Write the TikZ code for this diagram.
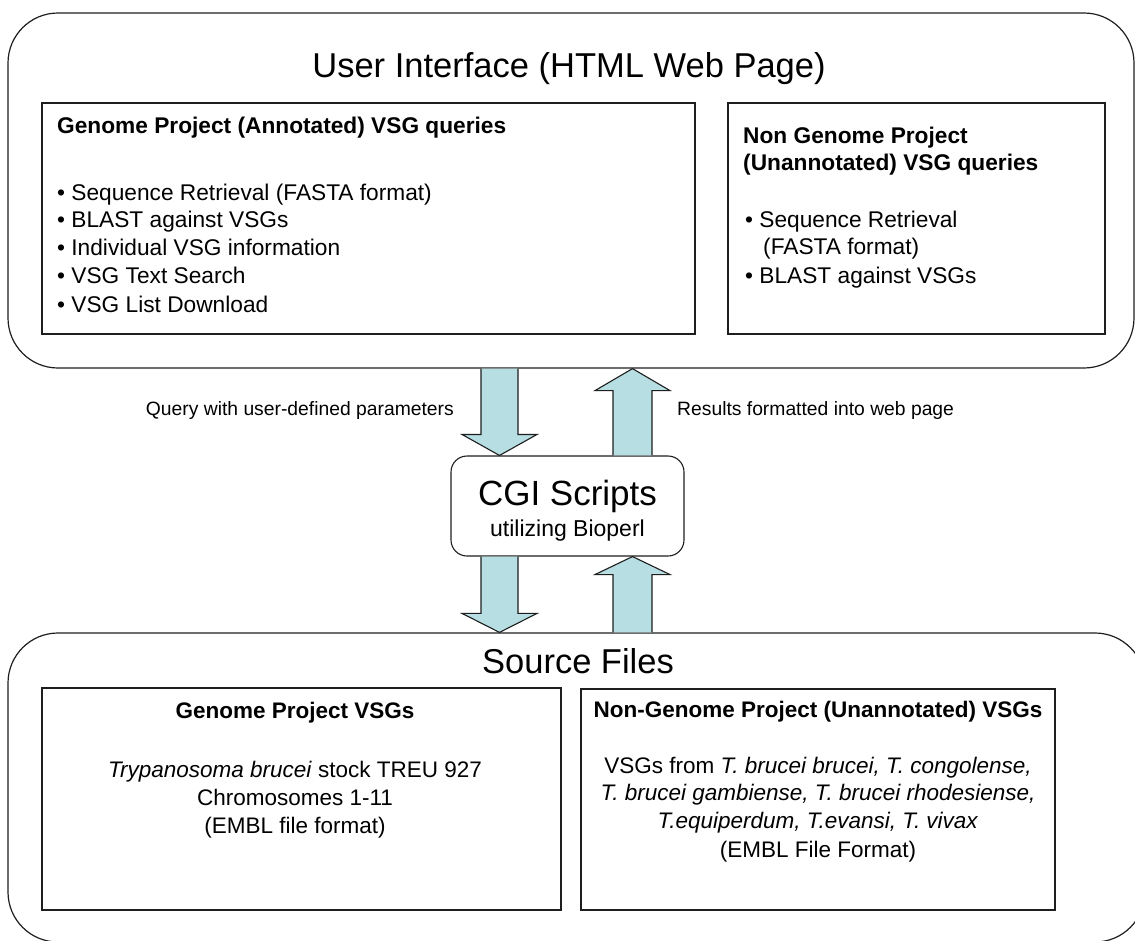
\documentclass[tikz,border=0pt]{standalone}
\usepackage{fontspec}
\setmainfont{Liberation Sans}
\usetikzlibrary{calc}
\definecolor{arrowfill}{RGB}{183,222,226}
\definecolor{edge}{RGB}{30,30,30}
\tikzset{
  outerbox/.style={draw=edge, line width=1.2pt, rounded corners=50pt, inner sep=0pt},
  innerbox/.style={draw=edge, line width=1.1pt, inner sep=0pt},
  cgibox/.style={draw=edge, line width=1.1pt, rounded corners=16pt, inner sep=0pt, fill=white},
  bigtext/.style={font=\fontsize{34.5}{40}\selectfont, inner sep=0pt, anchor=base},
  lt/.style={font=\fontsize{22.7}{28}\selectfont, inner sep=0pt, anchor=base west},
  bt/.style={font=\fontsize{22.7}{28}\selectfont\bfseries, inner sep=0pt, anchor=base west},
  ct/.style={font=\fontsize{22.5}{28}\selectfont, inner sep=0pt, anchor=base},
  cbt/.style={font=\fontsize{22.5}{28}\selectfont\bfseries, inner sep=0pt, anchor=base},
  smallt/.style={font=\fontsize{19.3}{24}\selectfont, inner sep=0pt},
  arrowfillst/.style={fill=arrowfill, draw=none},
  arrowedge/.style={draw=edge, line width=1.1pt, line join=miter},
}
\begin{document}
\begin{tikzpicture}[x=1pt,y=-1pt]
\useasboundingbox (0,0) rectangle (1135,940);
\clip (0,0) rectangle (1135,940);

% outer containers
\node[outerbox, minimum width=1126pt, minimum height=355pt] (ui) at (571,190.5) {};
\node[outerbox, minimum width=1137pt, minimum height=309pt] (src) at (576.5,787.5) {};

% inner boxes
\node[innerbox, minimum width=653pt, minimum height=231pt] (gq) at (368.5,218.5) {};
\node[innerbox, minimum width=377pt, minimum height=231pt] (nq) at (916.5,218.5) {};
\node[innerbox, minimum width=519pt, minimum height=222pt] (gs) at (301.5,799) {};
\node[innerbox, minimum width=474pt, minimum height=221pt] (ns) at (818,799.5) {};

% titles
\node[bigtext] (uititle) at (569,77) {User Interface (HTML Web Page)};
\node[bigtext] (srctitle) at (578,673) {Source Files};

% box 1 text
\node[bt] (gqh) at (57,133) {Genome Project (Annotated) VSG queries};
\node[lt] (gq1) at (57,200) {• Sequence Retrieval (FASTA format)};
\node[lt] (gq2) at (57,227) {• BLAST against VSGs};
\node[lt] (gq3) at (57,255) {• Individual VSG information};
\node[lt] (gq4) at (57,283) {• VSG Text Search};
\node[lt] (gq5) at (57,312) {• VSG List Download};

% box 2 text
\node[bt] (nqh1) at (743,143) {Non Genome Project};
\node[bt] (nqh2) at (743,170) {(Unannotated) VSG queries};
\node[lt] (nq1) at (745,227) {• Sequence Retrieval};
\node[lt] (nq1b) at (763,254) {(FASTA format)};
\node[lt] (nq2) at (745,283) {• BLAST against VSGs};

% CGI box
\node[cgibox, minimum width=233pt, minimum height=100pt] (cgi) at (567.5,506) {};
\node[font=\fontsize{35}{40}\selectfont, inner sep=0pt, anchor=base] (cgit) at (567.5,505) {CGI Scripts};
\node[font=\fontsize{23}{28}\selectfont, inner sep=0pt, anchor=base] (cgis) at (567.5,536) {utilizing Bioperl};

% arrow labels
\node[smallt, anchor=base east] (qlab) at (454,415) {Query with user-defined parameters};
\node[smallt, anchor=base west] (rlab) at (677,415) {Results formatted into web page};

% block arrows (down: ui -> cgi)
\path let \p1=(ui.south), \p2=(cgi.north) in
  coordinate (a1t) at (499.5,\y1) coordinate (a1b) at (499.5,\y2);
\fill[arrowfillst] let \p1=(a1t), \p2=(a1b) in
  (481,\y1) -- (481,\y2+21pt) -- (462,\y2+21pt) -- (\x2,\y2) -- (537,\y2+21pt) -- (518,\y2+21pt) -- (518,\y1) -- cycle;
\draw[arrowedge] let \p1=(a1t), \p2=(a1b) in
  (481,\y1) -- (481,\y2+21pt) -- (462,\y2+21pt) -- (\x2,\y2) -- (537,\y2+21pt) -- (518,\y2+21pt) -- (518,\y1);

% up: cgi -> ui
\path let \p1=(cgi.north), \p2=(ui.south) in
  coordinate (a2b) at (632.5,\y1) coordinate (a2t) at (632.5,\y2);
\fill[arrowfillst] let \p1=(a2b), \p2=(a2t) in
  (613,\y1) -- (613,\y2-22pt) -- (595,\y2-22pt) -- (\x2,\y2) -- (670,\y2-22pt) -- (652,\y2-22pt) -- (652,\y1) -- cycle;
\draw[arrowedge] let \p1=(a2b), \p2=(a2t) in
  (613,\y1) -- (613,\y2-22pt) -- (595,\y2-22pt) -- (\x2,\y2) -- (670,\y2-22pt) -- (652,\y2-22pt) -- (652,\y1);

% down: cgi -> src
\path let \p1=(cgi.south), \p2=(src.north) in
  coordinate (a3t) at (499.5,\y1) coordinate (a3b) at (499.5,\y2);
\fill[arrowfillst] let \p1=(a3t), \p2=(a3b) in
  (481,\y1) -- (481,\y2+19pt) -- (462,\y2+19pt) -- (\x2,\y2) -- (537,\y2+19pt) -- (518,\y2+19pt) -- (518,\y1) -- cycle;
\draw[arrowedge] let \p1=(a3t), \p2=(a3b) in
  (481,\y1) -- (481,\y2+19pt) -- (462,\y2+19pt) -- (\x2,\y2) -- (537,\y2+19pt) -- (518,\y2+19pt) -- (518,\y1);

% up: src -> cgi
\path let \p1=(src.north), \p2=(cgi.south) in
  coordinate (a4b) at (632.5,\y1) coordinate (a4t) at (632.5,\y2);
\fill[arrowfillst] let \p1=(a4b), \p2=(a4t) in
  (613,\y1) -- (613,\y2-18pt) -- (595,\y2-18pt) -- (\x2,\y2) -- (670,\y2-18pt) -- (652,\y2-18pt) -- (652,\y1) -- cycle;
\draw[arrowedge] let \p1=(a4b), \p2=(a4t) in
  (613,\y1) -- (613,\y2-18pt) -- (595,\y2-18pt) -- (\x2,\y2) -- (670,\y2-18pt) -- (652,\y2-18pt) -- (652,\y1);

% box 3 text
\node[cbt] (gsh) at (295,718) {Genome Project VSGs};
\node[ct] (gs1) at (295,777) {\textit{Trypanosoma brucei} stock TREU 927};
\node[ct] (gs2) at (295,805) {Chromosomes 1-11};
\node[ct] (gs3) at (295,833) {(EMBL file format)};

% box 4 text
\node[cbt] (nsh) at (818,717) {Non-Genome Project (Unannotated) VSGs};
\node[ct] (ns1) at (818,773) {VSGs from \textit{T. brucei brucei, T. congolense,}};
\node[ct] (ns2) at (818,800) {\textit{T. brucei gambiense, T. brucei rhodesiense,}};
\node[ct] (ns3) at (818,828) {\textit{T.equiperdum, T.evansi, T. vivax}};
\node[ct] (ns4) at (818,857) {(EMBL File Format)};
\end{tikzpicture}
\end{document}
